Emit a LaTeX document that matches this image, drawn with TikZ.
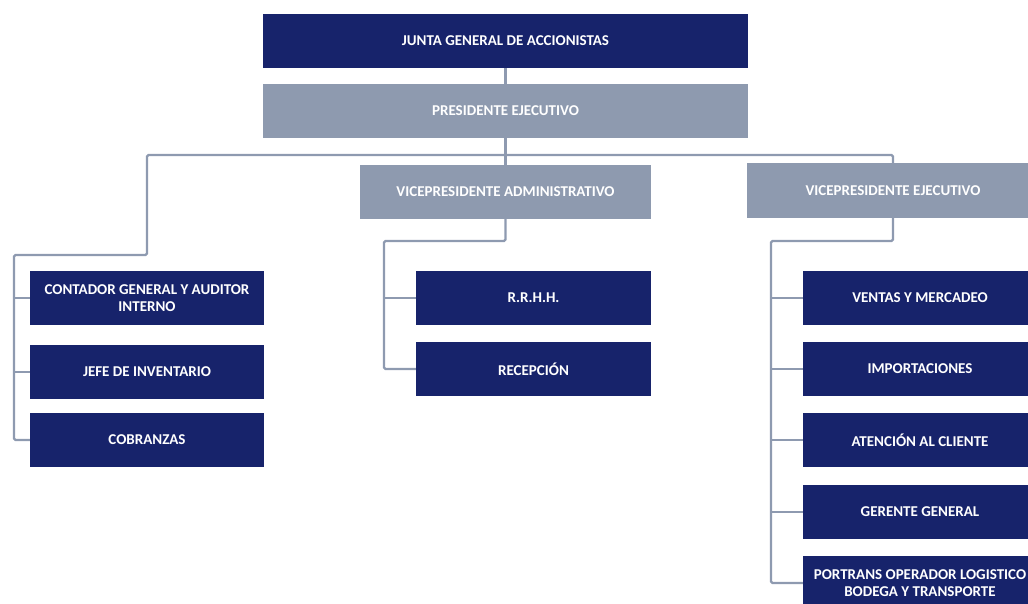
\documentclass[tikz,border=0pt]{standalone}
\usepackage{fontspec}
\setmainfont{Carlito}
\definecolor{navy}{RGB}{23,35,107}
\definecolor{slate}{RGB}{142,154,175}
\definecolor{wire}{RGB}{142,154,176}
\begin{document}
\begin{tikzpicture}[x=1pt,y=-1pt,
  box/.style={rectangle, inner sep=2pt, align=center, text=white,
    font=\fontsize{15}{16.5}\selectfont\bfseries, minimum height=54pt},
  darkbox/.style={box, fill=navy},
  greybox/.style={box, fill=slate},
  wireline/.style={draw=wire, line width=2.2pt, rounded corners=1.5pt}]
\useasboundingbox (0,0) rectangle (1028,603);
\clip (0,0) rectangle (1028,603);
% top
\node[darkbox, minimum width=485pt] (junta) at (505.5,41) {JUNTA GENERAL DE ACCIONISTAS};
\node[greybox, minimum width=485pt] (pres) at (505.5,111) {PRESIDENTE EJECUTIVO};
\node[greybox, minimum width=291pt] (vpa) at (505.5,192) {VICEPRESIDENTE ADMINISTRATIVO};
\node[greybox, minimum width=292pt, minimum height=55pt] (vpe) at (893,190.5) {VICEPRESIDENTE EJECUTIVO};
% left
\node[darkbox, minimum width=234pt] (l1) at (147,298) {CONTADOR GENERAL Y AUDITOR\\INTERNO};
\node[darkbox, minimum width=234pt] (l2) at (147,372) {JEFE DE INVENTARIO};
\node[darkbox, minimum width=234pt] (l3) at (147,440) {COBRANZAS};
% middle
\node[darkbox, minimum width=235pt] (m1) at (533.5,298) {R.R.H.H.};
\node[darkbox, minimum width=235pt] (m2) at (533.5,369) {RECEPCIÓN};
% right
\node[darkbox, minimum width=234pt] (r1) at (920,298) {VENTAS Y MERCADEO};
\node[darkbox, minimum width=234pt] (r2) at (920,369) {IMPORTACIONES};
\node[darkbox, minimum width=234pt] (r3) at (920,440) {ATENCIÓN AL CLIENTE};
\node[darkbox, minimum width=234pt] (r4) at (920,512) {GERENTE GENERAL};
\node[darkbox, minimum width=234pt] (r5) at (920,583) {PORTRANS OPERADOR LOGISTICO\\BODEGA Y TRANSPORTE};
% connectors
\coordinate (busL) at (147,155);
\coordinate (busR) at (893,155);
\coordinate (lk) at (14,255);
\coordinate (mk) at (384,241);
\coordinate (rk) at (771,241);
\draw[wireline] (junta) -- (pres);
\draw[wireline] (pres.south) -- (vpa.north);
\draw[wireline] (vpe.north) -- (busR) -- (busL) -- (busL |- lk) -- (lk) -- (lk |- l3.west) -- (l3.west);
\draw[wireline] (lk |- l1.west) -- (l1.west);
\draw[wireline] (lk |- l2.west) -- (l2.west);
\draw[wireline] (vpa.south) |- (mk) -- (mk |- m2.west) -- (m2.west);
\draw[wireline] (mk |- m1.west) -- (m1.west);
\draw[wireline] (vpe.south) |- (rk) -- (rk |- r5.west) -- (r5.west);
\draw[wireline] (rk |- r1.west) -- (r1.west);
\draw[wireline] (rk |- r2.west) -- (r2.west);
\draw[wireline] (rk |- r3.west) -- (r3.west);
\draw[wireline] (rk |- r4.west) -- (r4.west);
\end{tikzpicture}
\end{document}
